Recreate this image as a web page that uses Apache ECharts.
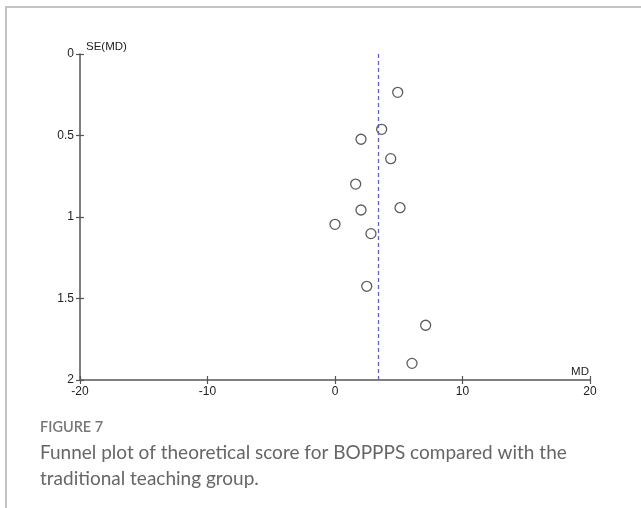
<!DOCTYPE html>
<html>
<head>
<meta charset="utf-8">
<style>
  html, body { margin: 0; padding: 0; background: #fff; }
  #chart { width: 641px; height: 508px; }
</style>
<script src="https://cdn.jsdelivr.net/npm/echarts@6/dist/echarts.min.js"></script>
</head>
<body>
<div id="chart"></div>
<script>
// ---- data ----
const studyMD = [4.92, 3.66, 2.04, 4.37, 1.62, 2.04, 5.10, 0.00, 2.82, 2.49, 7.11, 6.04];
const studySE = [0.235, 0.462, 0.523, 0.642, 0.798, 0.957, 0.943, 1.045, 1.102, 1.425, 1.664, 1.898];
const pooledMD = 3.4;
const xTicks = [-20, -10, 0, 10, 20];
const yTicks = [0, 0.5, 1, 1.5, 2];
const xName = 'MD';
const yName = 'SE(MD)';
const figureLabel = 'FIGURE 7';
const captionLines = [
  'Funnel plot of theoretical score for BOPPPS compared with the',
  'traditional teaching group.'
];

const points = studyMD.map((v, i) => [v, studySE[i]]);

const axisColor = '#555';
const labelFont = 'Liberation Sans, Arial, sans-serif';
const labelColor = '#222';

const chart = echarts.init(document.getElementById('chart'), null, { renderer: 'canvas' });

const baseX = {
  type: 'value',
  min: xTicks[0], max: xTicks[xTicks.length - 1], interval: 10,
  splitLine: { show: false }
};
const baseY = {
  type: 'value',
  min: yTicks[0], max: yTicks[yTicks.length - 1], interval: 0.5,
  inverse: true,
  splitLine: { show: false }
};

chart.setOption({
  animation: false,
  backgroundColor: '#fff',
  grid: { left: 80, right: 51, top: 54, bottom: 128, containLabel: false },
  xAxis: [
    Object.assign({}, baseX, {
      position: 'bottom',
      name: xName,
      nameLocation: 'end',
      nameGap: -1,
      nameTextStyle: { fontFamily: labelFont, fontSize: 11.5, color: labelColor, align: 'right', verticalAlign: 'bottom', padding: [0, 0, 2, 0] },
      axisLine: { show: true, onZero: false, lineStyle: { color: axisColor, width: 1.5 } },
      axisTick: { show: true, inside: false, length: 4, lineStyle: { color: axisColor, width: 1.2 } },
      axisLabel: { show: true, margin: 6, fontFamily: labelFont, fontSize: 12, color: labelColor,
        formatter: v => String(v) }
    }),
    Object.assign({}, baseX, {
      position: 'bottom',
      axisLine: { show: false, onZero: false },
      axisTick: { show: true, inside: true, length: 4, lineStyle: { color: axisColor, width: 1.2 } },
      axisLabel: { show: false }
    })
  ],
  yAxis: [
    Object.assign({}, baseY, {
      position: 'left',
      name: yName,
      nameLocation: 'start',
      nameGap: 1,
      nameTextStyle: { fontFamily: labelFont, fontSize: 11.5, color: labelColor, align: 'left', verticalAlign: 'bottom', padding: [0, 0, 0, 6] },
      axisLine: { show: true, onZero: false, lineStyle: { color: axisColor, width: 1.5 } },
      axisTick: { show: true, inside: false, length: 4, lineStyle: { color: axisColor, width: 1.2 } },
      axisLabel: { show: true, margin: 6, fontFamily: labelFont, fontSize: 12, color: labelColor,
        formatter: v => String(v) }
    }),
    Object.assign({}, baseY, {
      position: 'left',
      axisLine: { show: false, onZero: false },
      axisTick: { show: true, inside: true, length: 4, lineStyle: { color: axisColor, width: 1.2 } },
      axisLabel: { show: false }
    })
  ],
  series: [
    {
      type: 'scatter',
      xAxisIndex: 0, yAxisIndex: 0,
      data: points,
      symbol: 'circle',
      symbolSize: 10,
      itemStyle: { color: '#fff', borderColor: '#333', borderWidth: 1.3 },
      markLine: {
        silent: true,
        symbol: ['none', 'none'],
        label: { show: false },
        lineStyle: { color: '#6060cc', width: 1.3, type: [4, 3] },
        data: [[{ coord: [pooledMD, yTicks[0]] }, { coord: [pooledMD, yTicks[yTicks.length - 1]] }]]
      },
      z: 3
    }
  ],
  graphic: [
    { type: 'line', shape: { x1: 6, y1: 7, x2: 641, y2: 7 }, style: { stroke: '#c4c4c4', lineWidth: 2 } },
    { type: 'line', shape: { x1: 6, y1: 6, x2: 6, y2: 508 }, style: { stroke: '#c4c4c4', lineWidth: 2 } },
    { type: 'text', left: 40, top: 420,
      style: { text: figureLabel, font: '600 14.5px Lato, sans-serif', fill: '#777' } },
    { type: 'text', left: 40, top: 440,
      style: { text: captionLines.join('\n'), font: '19px Lato, sans-serif', fill: '#666', lineHeight: 26 } }
  ]
});
</script>
</body>
</html>
